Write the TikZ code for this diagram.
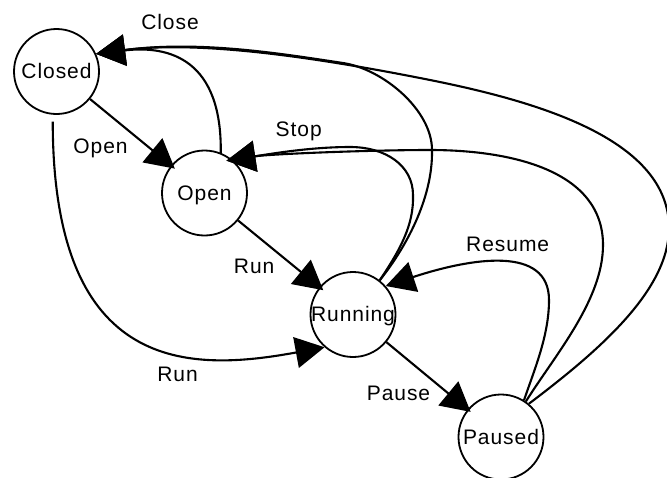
\documentclass[tikz,border=0pt]{standalone}
\usepackage{fontspec}
\setmainfont[LetterSpace=4.5]{Liberation Sans}
\usetikzlibrary{arrows.meta}
\tikzset{
  state/.style={circle, draw, line width=1.8pt, minimum size=85pt, inner sep=0pt,
    font=\fontsize{21}{25}\selectfont, text height=14pt, text depth=0pt},
  edge/.style={line width=2.1pt, -{Triangle[length=29pt,width=31pt]}},
  lbl/.style={anchor=base, inner sep=0pt, font=\fontsize{21}{25}\selectfont},
}
\begin{document}
\begin{tikzpicture}[x=1pt, y=-1pt]
  \fill[white] (0,0) rectangle (667,477);
  \clip (0,0) rectangle (667,477);

  % states
  \node[state] (C) at (56.5,71.5) {Closed};
  \node[state] (O) at (204.5,193) {Open};
  \node[state] (R) at (353,314.5) {Running};
  \node[state] (P) at (501,437) {Paused};

  % forward transitions
  \draw[edge, shorten >=-5pt] (C) -- (O);
  \draw[edge, shorten >=-5pt] (O) -- (R);
  \draw[edge, shorten >=-4pt] (R) -- (P);
  \draw[edge, shorten <=7pt] (C.265) .. controls (53,375) and (190,372) .. (R.229);

  % Close: back to Closed
  \draw[edge] (O.68) .. controls (222,60) and (170,45) .. (C.24);
  \draw[edge] (R.52) .. controls (404,250) and (433,200) .. (432,150)
              .. controls (432,110) and (383,69) .. (343,63)
              .. controls (283,54) and (200,40) .. (C.24);
  \draw[edge] (P.50) .. controls (600,350) and (669,290) .. (669,228)
              .. controls (669,140) and (540,102) .. (430,80)
              .. controls (320,58) and (200,40) .. (C.24);

  % Stop: back to Open
  \draw[edge, shorten >=-6pt] (R.52) .. controls (400,250) and (414,225) .. (413,195)
              .. controls (413,165) and (385,147) .. (350,147)
              .. controls (310,147) and (270,154) .. (O.50);
  \draw[edge, shorten >=-6pt] (P.55) .. controls (555,355) and (603,300) .. (603,245)
              .. controls (603,170) and (510,150) .. (430,150)
              .. controls (370,150) and (270,154) .. (O.50);

  % Resume
  \draw[edge] (P.58) .. controls (535,368) and (549,335) .. (549,300)
              .. controls (549,245) and (471,258) .. (R.41);

  % transition labels
  \node[lbl] (lClose)  at (170,29)      {Close};
  \node[lbl] (lOpen)   at (100.5,153)   {Open};
  \node[lbl] (lStop)   at (298.7,136.7) {Stop};
  \node[lbl] (lRunA)   at (254.2,273.3) {Run};
  \node[lbl] (lRunB)   at (177.5,381.7) {Run};
  \node[lbl] (lResume) at (507.7,251.7) {Resume};
  \node[lbl] (lPause)  at (398.5,400)   {Pause};
\end{tikzpicture}
\end{document}
